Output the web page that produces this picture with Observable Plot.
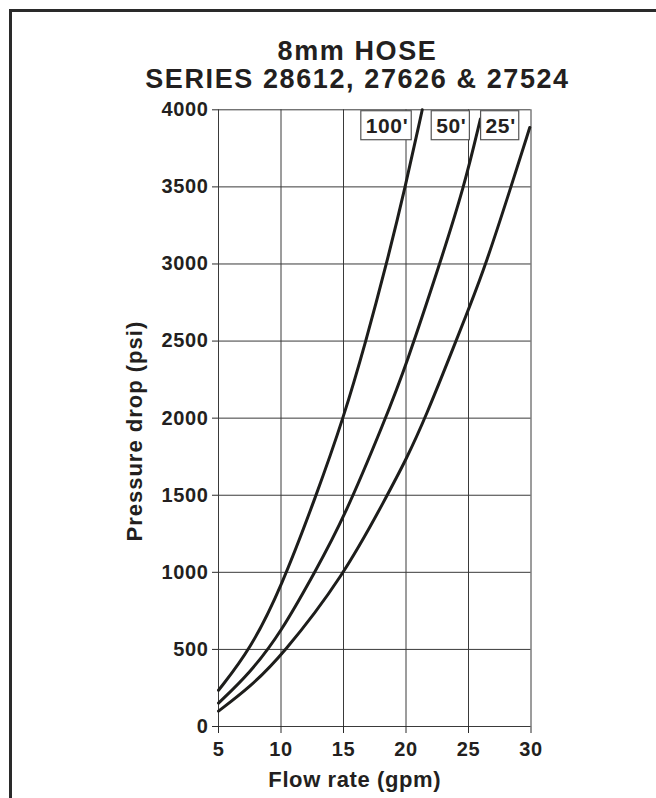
<!DOCTYPE html>
<html>
<head>
<meta charset="utf-8">
<script src="https://cdn.jsdelivr.net/npm/d3@7"></script>
<script src="https://cdn.jsdelivr.net/npm/@observablehq/plot@0.6"></script>
<style>
html, body { margin: 0; padding: 0; background: #fff; }
#wrap { position: relative; width: 656px; height: 798px; overflow: hidden; font-family: "Liberation Sans", Arial, sans-serif; color: #231f20; }
#frame { position: absolute; left: 9px; top: 9px; width: 720px; height: 820px; border-left: 3px solid #2a2a2a; border-top: 3px solid #2a2a2a; z-index: 2; pointer-events: none; }
#title { position: absolute; left: 0; width: 715px; top: 36.7px; text-align: center; font-weight: bold; font-size: 27px; line-height: 28.3px; letter-spacing: 1.6px; z-index: 3; white-space: nowrap; }
#chart { position: absolute; left: 0; top: 0; z-index: 1; }
#chart svg text { font-family: "Liberation Sans", Arial, sans-serif; }
</style>
</head>
<body>
<div id="wrap">
  <div id="frame"></div>
  <div id="title"></div>
  <div id="chart"></div>
</div>
<script>
// ---- data ----
const titleLines = ["8mm HOSE", "SERIES 28612, 27626 & 27524"];
const xLabel = "Flow rate (gpm)";
const yLabel = "Pressure drop (psi)";
const xTicks = [5, 10, 15, 20, 25, 30];
const yTicks = [0, 500, 1000, 1500, 2000, 2500, 3000, 3500, 4000];
const seriesNames = ["100'", "50'", "25'"];

const flow100 = [5, 7.55, 10, 12.83, 15, 16.8, 18.44, 19.95, 21.3];
const psi100  = [235, 500, 898, 1500, 2000, 2500, 3000, 3500, 4000];

const flow50 = [5, 7.5, 10, 12.7, 15, 18.38, 20, 22.7, 24.65, 25.95];
const psi50  = [152, 345, 610, 1000, 1345, 2000, 2341, 3000, 3500, 3940];

const flow25 = [5, 7.5, 10, 15, 18.5, 20, 21.54, 24.0, 25, 26.4, 28.4, 29.9];
const psi25  = [100, 255, 452, 974, 1500, 1730, 2000, 2500, 2705, 3000, 3500, 3885];

// ---- build tables ----
const flows = [flow100, flow50, flow25];
const psis = [psi100, psi50, psi25];
const rows = [];
seriesNames.forEach((s, i) => flows[i].forEach((f, j) => rows.push({series: s, flow: f, psi: psis[i][j]})));
const labelRows = seriesNames.map((s, i) => ({series: s, flow: flows[i][flows[i].length - 1]}));

document.getElementById("title").innerHTML = titleLines.join("<br>");

const ink = "#231f20";
const chart = Plot.plot({
  width: 656,
  height: 798,
  marginLeft: 218,
  marginRight: 125.5,
  marginTop: 109.3,
  marginBottom: 72,
  style: {background: "transparent", fontFamily: "'Liberation Sans', Arial, sans-serif", color: ink, letterSpacing: "0.6px", overflow: "visible"},
  x: {domain: [5, 30]},
  y: {domain: [0, 4000]},
  marks: [
    Plot.gridX(xTicks, {stroke: "#3a3a3a", strokeOpacity: 1, strokeWidth: 1}),
    Plot.gridY(yTicks, {stroke: "#3a3a3a", strokeOpacity: 1, strokeWidth: 1}),
    Plot.axisX(xTicks, {tickSize: 7, tickPadding: 8, fontSize: 20, fontWeight: "bold", label: null, stroke: "#2a2a2a", fill: ink, tickFormat: d => String(d)}),
    Plot.axisY(yTicks, {tickSize: 6, tickPadding: 4, fontSize: 20, fontWeight: "bold", label: null, stroke: "#2a2a2a", fill: ink, tickFormat: d => String(d)}),
    Plot.line(rows, {x: "flow", y: "psi", z: "series", stroke: "#1d1d1b", strokeWidth: 3, curve: "basis"}),
    Plot.text(labelRows, {x: "flow", text: "series", frameAnchor: "top", lineAnchor: "top", textAnchor: "end", dx: -14, dy: 8, fontSize: 21, fontWeight: "bold", fill: ink}),
    Plot.text([xLabel], {frameAnchor: "bottom", lineAnchor: "bottom", textAnchor: "middle", dy: 60.7, dx: -20, fontSize: 22, fontWeight: "bold", fill: ink}),
    Plot.text([yLabel], {frameAnchor: "left", rotate: -90, lineAnchor: "bottom", textAnchor: "middle", dx: -76.3, dy: 13, fontSize: 22, fontWeight: "bold", fill: ink})
  ]
});
document.getElementById("chart").append(chart);

const allText = Array.from(chart.querySelectorAll("text"));
allText.filter(t => t.textContent === yLabel).forEach(t => t.style.letterSpacing = "1px");

// boxes behind series labels
allText.filter(t => seriesNames.includes(t.textContent)).forEach(t => {
  const b = t.getBBox();
  const r = document.createElementNS("http://www.w3.org/2000/svg", "rect");
  r.setAttribute("x", b.x - 5);
  r.setAttribute("y", b.y - 3);
  r.setAttribute("width", b.width + 8);
  r.setAttribute("height", b.height + 6);
  r.setAttribute("fill", "#fff");
  r.setAttribute("stroke", "#555");
  r.setAttribute("stroke-width", 1.2);
  const tr = t.getAttribute("transform");
  if (tr) r.setAttribute("transform", tr);
  t.parentNode.insertBefore(r, t);
});
</script>
</body>
</html>
